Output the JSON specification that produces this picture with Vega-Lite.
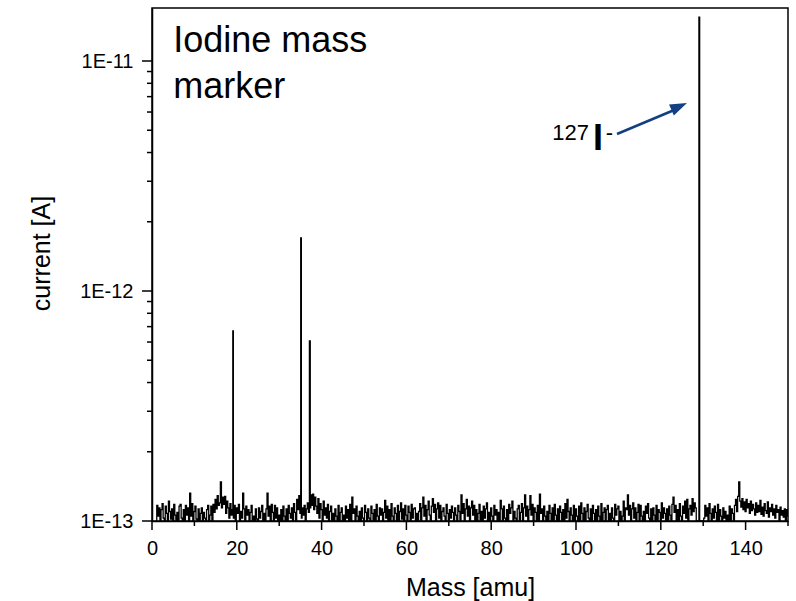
{
"$schema":"https://vega.github.io/schema/vega-lite/v6.json",
"width":636,"height":513,
"autosize":{"type":"none"},
"padding":{"left":152,"top":8,"right":8,"bottom":80},
"background":"white",
"config":{"font":"Liberation Sans","view":{"stroke":"black","strokeWidth":1.5},
"axis":{"zindex":0,"domainColor":"black","domainWidth":1.5,"ticks":false,"labelColor":"black","titleColor":"black","labelFontSize":20,"titleFontSize":25,"titleFontWeight":"normal","grid":false,"labelFont":"Liberation Sans","titleFont":"Liberation Sans","labelOverlap":false,"labelFlush":false}},
"layer":[
{"data":{"values":[
{"m":1,"c":1e-13},{"m":1.25,"c":1.17e-13},{"m":1.5,"c":1.05e-13},{"m":1.75,"c":1.14e-13},
{"m":2,"c":1e-13},{"m":2.25,"c":1.12e-13},{"m":2.5,"c":1.19e-13},{"m":2.75,"c":1.03e-13},
{"m":3,"c":1e-13},{"m":3.25,"c":1.16e-13},{"m":3.5,"c":1.08e-13},{"m":3.75,"c":1e-13},
{"m":4,"c":1.22e-13},{"m":4.25,"c":1.1e-13},{"m":4.5,"c":1.02e-13},{"m":4.75,"c":1.13e-13},
{"m":5,"c":1e-13},{"m":5.25,"c":1.18e-13},{"m":5.5,"c":1.06e-13},{"m":5.75,"c":1e-13},
{"m":6,"c":1.09e-13},{"m":6.25,"c":1e-13},{"m":6.5,"c":1.16e-13},{"m":6.75,"c":1.18e-13},
{"m":7,"c":1.03e-13},{"m":7.25,"c":1e-13},{"m":7.5,"c":1.12e-13},{"m":7.75,"c":1e-13},
{"m":8,"c":1.17e-13},{"m":8.25,"c":1.06e-13},{"m":8.5,"c":1.14e-13},{"m":8.75,"c":1e-13},
{"m":9,"c":1.32e-13},{"m":9.25,"c":1.05e-13},{"m":9.5,"c":1.19e-13},{"m":9.75,"c":1e-13},
{"m":10,"c":1.1e-13},{"m":10.25,"c":1.16e-13},{"m":10.5,"c":1.02e-13},{"m":10.75,"c":1e-13},
{"m":11,"c":1.13e-13},{"m":11.25,"c":1e-13},{"m":11.5,"c":1.08e-13},{"m":11.75,"c":1.14e-13},
{"m":12,"c":1e-13},{"m":12.25,"c":1.09e-13},{"m":12.5,"c":1.03e-13},{"m":12.75,"c":1e-13},
{"m":13,"c":1.12e-13},{"m":13.25,"c":1.17e-13},{"m":13.5,"c":1e-13},{"m":13.75,"c":1.06e-13},
{"m":14,"c":1.16e-13},{"m":14.25,"c":1e-13},{"m":14.5,"c":1.18e-13},{"m":14.75,"c":1.09e-13},
{"m":15,"c":1.24e-13},{"m":15.25,"c":1.13e-13},{"m":15.5,"c":1.29e-13},{"m":15.75,"c":1.17e-13},
{"m":16,"c":1.2e-13},{"m":16.25,"c":1.48e-13},{"m":16.5,"c":1.14e-13},{"m":16.75,"c":1.27e-13},
{"m":17,"c":1.18e-13},{"m":17.25,"c":1.28e-13},{"m":17.5,"c":1.08e-13},{"m":17.75,"c":1.22e-13},
{"m":18,"c":1.14e-13},{"m":18.25,"c":1.03e-13},{"m":18.5,"c":1.19e-13},{"m":18.75,"c":1.06e-13},
{"m":19,"c":1.12e-13},{"m":19.12,"c":6.7e-13},{"m":19.25,"c":1.03e-13},{"m":19.5,"c":1.17e-13},{"m":19.75,"c":1e-13},
{"m":20,"c":1.14e-13},{"m":20.25,"c":1.08e-13},{"m":20.5,"c":1.18e-13},{"m":20.75,"c":1e-13},
{"m":21,"c":1.1e-13},{"m":21.25,"c":1.03e-13},{"m":21.5,"c":1.32e-13},{"m":21.75,"c":1.13e-13},
{"m":22,"c":1e-13},{"m":22.25,"c":1.16e-13},{"m":22.5,"c":1.06e-13},{"m":22.75,"c":1.12e-13},
{"m":23,"c":1e-13},{"m":23.25,"c":1.09e-13},{"m":23.5,"c":1.17e-13},{"m":23.75,"c":1e-13},
{"m":24,"c":1.05e-13},{"m":24.25,"c":1e-13},{"m":24.5,"c":1.13e-13},{"m":24.75,"c":1.02e-13},
{"m":25,"c":1e-13},{"m":25.25,"c":1.14e-13},{"m":25.5,"c":1.03e-13},{"m":25.75,"c":1.1e-13},
{"m":26,"c":1.17e-13},{"m":26.25,"c":1e-13},{"m":26.5,"c":1.08e-13},{"m":26.75,"c":1e-13},
{"m":27,"c":1.13e-13},{"m":27.25,"c":1.32e-13},{"m":27.5,"c":1.05e-13},{"m":27.75,"c":1.16e-13},
{"m":28,"c":1e-13},{"m":28.25,"c":1.18e-13},{"m":28.5,"c":1.09e-13},{"m":28.75,"c":1e-13},
{"m":29,"c":1.17e-13},{"m":29.25,"c":1.03e-13},{"m":29.5,"c":1.14e-13},{"m":29.75,"c":1e-13},
{"m":30,"c":1.06e-13},{"m":30.25,"c":1e-13},{"m":30.5,"c":1.12e-13},{"m":30.75,"c":1e-13},
{"m":31,"c":1.16e-13},{"m":31.25,"c":1.05e-13},{"m":31.5,"c":1e-13},{"m":31.75,"c":1.13e-13},
{"m":32,"c":1e-13},{"m":32.25,"c":1.17e-13},{"m":32.5,"c":1.08e-13},{"m":32.75,"c":1.03e-13},
{"m":33,"c":1.14e-13},{"m":33.25,"c":1e-13},{"m":33.5,"c":1.19e-13},{"m":33.75,"c":1.09e-13},
{"m":34,"c":1e-13},{"m":34.25,"c":1.24e-13},{"m":34.5,"c":1.12e-13},{"m":34.75,"c":1.29e-13},
{"m":35,"c":1.08e-13},{"m":35.15,"c":1.7e-12},{"m":35.3,"c":1.03e-13},{"m":35.5,"c":1.14e-13},{"m":35.75,"c":1.06e-13},
{"m":36,"c":1.17e-13},{"m":36.25,"c":1e-13},{"m":36.5,"c":1.13e-13},{"m":36.75,"c":1.2e-13},
{"m":37,"c":1.09e-13},{"m":37.25,"c":6.07e-13},{"m":37.4,"c":1.14e-13},{"m":37.5,"c":1.3e-13},{"m":37.75,"c":1.17e-13},
{"m":38,"c":1.31e-13},{"m":38.25,"c":1.12e-13},{"m":38.5,"c":1.27e-13},{"m":38.75,"c":1.16e-13},
{"m":39,"c":1.08e-13},{"m":39.25,"c":1.25e-13},{"m":39.5,"c":1.03e-13},{"m":39.75,"c":1.19e-13},
{"m":40,"c":1.12e-13},{"m":40.25,"c":1e-13},{"m":40.5,"c":1.22e-13},{"m":40.75,"c":1.06e-13},
{"m":41,"c":1.14e-13},{"m":41.25,"c":1.03e-13},{"m":41.5,"c":1.18e-13},{"m":41.75,"c":1e-13},
{"m":42,"c":1.1e-13},{"m":42.25,"c":1.16e-13},{"m":42.5,"c":1e-13},{"m":42.75,"c":1.08e-13},
{"m":43,"c":1e-13},{"m":43.25,"c":1.13e-13},{"m":43.5,"c":1.05e-13},{"m":43.75,"c":1e-13},
{"m":44,"c":1.17e-13},{"m":44.25,"c":1e-13},{"m":44.5,"c":1.09e-13},{"m":44.75,"c":1.14e-13},
{"m":45,"c":1e-13},{"m":45.25,"c":1.06e-13},{"m":45.5,"c":1e-13},{"m":45.75,"c":1.16e-13},
{"m":46,"c":1.03e-13},{"m":46.25,"c":1.12e-13},{"m":46.5,"c":1e-13},{"m":46.75,"c":1.18e-13},
{"m":47,"c":1e-13},{"m":47.25,"c":1.27e-13},{"m":47.5,"c":1.08e-13},{"m":47.75,"c":1.13e-13},
{"m":48,"c":1e-13},{"m":48.25,"c":1.16e-13},{"m":48.5,"c":1.05e-13},{"m":48.75,"c":1e-13},
{"m":49,"c":1.1e-13},{"m":49.25,"c":1e-13},{"m":49.5,"c":1.14e-13},{"m":49.75,"c":1.03e-13},
{"m":50,"c":1e-13},{"m":50.25,"c":1.17e-13},{"m":50.5,"c":1.09e-13},{"m":50.75,"c":1e-13},
{"m":51,"c":1.13e-13},{"m":51.25,"c":1.03e-13},{"m":51.5,"c":1e-13},{"m":51.75,"c":1.16e-13},
{"m":52,"c":1.08e-13},{"m":52.25,"c":1e-13},{"m":52.5,"c":1.12e-13},{"m":52.75,"c":1e-13},
{"m":53,"c":1.18e-13},{"m":53.25,"c":1.05e-13},{"m":53.5,"c":1e-13},{"m":53.75,"c":1.14e-13},
{"m":54,"c":1.06e-13},{"m":54.25,"c":1.13e-13},{"m":54.5,"c":1e-13},{"m":54.75,"c":1.09e-13},
{"m":55,"c":1.23e-13},{"m":55.25,"c":1.03e-13},{"m":55.5,"c":1.16e-13},{"m":55.75,"c":1e-13},
{"m":56,"c":1.12e-13},{"m":56.25,"c":1e-13},{"m":56.5,"c":1.19e-13},{"m":56.75,"c":1.05e-13},
{"m":57,"c":1e-13},{"m":57.25,"c":1.14e-13},{"m":57.5,"c":1.08e-13},{"m":57.75,"c":1e-13},
{"m":58,"c":1.17e-13},{"m":58.25,"c":1e-13},{"m":58.5,"c":1.1e-13},{"m":58.75,"c":1.2e-13},
{"m":59,"c":1.02e-13},{"m":59.25,"c":1.13e-13},{"m":59.5,"c":1e-13},{"m":59.75,"c":1.17e-13},
{"m":60,"c":1.06e-13},{"m":60.25,"c":1e-13},{"m":60.5,"c":1.16e-13},{"m":60.75,"c":1.09e-13},
{"m":61,"c":1e-13},{"m":61.25,"c":1.18e-13},{"m":61.5,"c":1.03e-13},{"m":61.75,"c":1.13e-13},
{"m":62,"c":1.14e-13},{"m":62.25,"c":1e-13},{"m":62.5,"c":1.08e-13},{"m":62.75,"c":1e-13},
{"m":63,"c":1.1e-13},{"m":63.25,"c":1.19e-13},{"m":63.5,"c":1e-13},{"m":63.75,"c":1.14e-13},
{"m":64,"c":1.27e-13},{"m":64.25,"c":1.05e-13},{"m":64.5,"c":1.17e-13},{"m":64.75,"c":1e-13},
{"m":65,"c":1.12e-13},{"m":65.25,"c":1.22e-13},{"m":65.5,"c":1.06e-13},{"m":65.75,"c":1e-13},
{"m":66,"c":1.16e-13},{"m":66.25,"c":1.25e-13},{"m":66.5,"c":1.09e-13},{"m":66.75,"c":1.18e-13},
{"m":67,"c":1e-13},{"m":67.25,"c":1.13e-13},{"m":67.5,"c":1.2e-13},{"m":67.75,"c":1.03e-13},
{"m":68,"c":1.17e-13},{"m":68.25,"c":1e-13},{"m":68.5,"c":1.1e-13},{"m":68.75,"c":1.14e-13},
{"m":69,"c":1.05e-13},{"m":69.25,"c":1e-13},{"m":69.5,"c":1.18e-13},{"m":69.75,"c":1.08e-13},
{"m":70,"c":1e-13},{"m":70.25,"c":1.12e-13},{"m":70.5,"c":1.03e-13},{"m":70.75,"c":1.16e-13},
{"m":71,"c":1.09e-13},{"m":71.25,"c":1e-13},{"m":71.5,"c":1.14e-13},{"m":71.75,"c":1.06e-13},
{"m":72,"c":1e-13},{"m":72.25,"c":1.17e-13},{"m":72.5,"c":1.1e-13},{"m":72.75,"c":1e-13},
{"m":73,"c":1.3e-13},{"m":73.25,"c":1.08e-13},{"m":73.5,"c":1.19e-13},{"m":73.75,"c":1e-13},
{"m":74,"c":1.13e-13},{"m":74.25,"c":1.24e-13},{"m":74.5,"c":1.05e-13},{"m":74.75,"c":1.16e-13},
{"m":75,"c":1e-13},{"m":75.25,"c":1.14e-13},{"m":75.5,"c":1.22e-13},{"m":75.75,"c":1.06e-13},
{"m":76,"c":1.17e-13},{"m":76.25,"c":1e-13},{"m":76.5,"c":1.12e-13},{"m":76.75,"c":1e-13},
{"m":77,"c":1.08e-13},{"m":77.25,"c":1.18e-13},{"m":77.5,"c":1e-13},{"m":77.75,"c":1.1e-13},
{"m":78,"c":1e-13},{"m":78.25,"c":1.16e-13},{"m":78.5,"c":1.03e-13},{"m":78.75,"c":1.13e-13},
{"m":79,"c":1.2e-13},{"m":79.25,"c":1e-13},{"m":79.5,"c":1.09e-13},{"m":79.75,"c":1e-13},
{"m":80,"c":1.14e-13},{"m":80.25,"c":1.05e-13},{"m":80.5,"c":1e-13},{"m":80.75,"c":1.17e-13},
{"m":81,"c":1.06e-13},{"m":81.25,"c":1.12e-13},{"m":81.5,"c":1e-13},{"m":81.75,"c":1.09e-13},
{"m":82,"c":1e-13},{"m":82.25,"c":1.23e-13},{"m":82.5,"c":1.13e-13},{"m":82.75,"c":1e-13},
{"m":83,"c":1.16e-13},{"m":83.25,"c":1.03e-13},{"m":83.5,"c":1e-13},{"m":83.75,"c":1.12e-13},
{"m":84,"c":1e-13},{"m":84.25,"c":1.18e-13},{"m":84.5,"c":1.08e-13},{"m":84.75,"c":1.14e-13},
{"m":85,"c":1.22e-13},{"m":85.25,"c":1e-13},{"m":85.5,"c":1.1e-13},{"m":85.75,"c":1.03e-13},
{"m":86,"c":1e-13},{"m":86.25,"c":1.13e-13},{"m":86.5,"c":1.17e-13},{"m":86.75,"c":1e-13},
{"m":87,"c":1.09e-13},{"m":87.25,"c":1.19e-13},{"m":87.5,"c":1e-13},{"m":87.75,"c":1.14e-13},
{"m":88,"c":1.3e-13},{"m":88.25,"c":1.05e-13},{"m":88.5,"c":1.16e-13},{"m":88.75,"c":1e-13},
{"m":89,"c":1.12e-13},{"m":89.25,"c":1.29e-13},{"m":89.5,"c":1.06e-13},{"m":89.75,"c":1.18e-13},
{"m":90,"c":1e-13},{"m":90.25,"c":1.14e-13},{"m":90.5,"c":1.09e-13},{"m":90.75,"c":1e-13},
{"m":91,"c":1.17e-13},{"m":91.25,"c":1e-13},{"m":91.5,"c":1.31e-13},{"m":91.75,"c":1.08e-13},
{"m":92,"c":1.13e-13},{"m":92.25,"c":1e-13},{"m":92.5,"c":1.16e-13},{"m":92.75,"c":1.05e-13},
{"m":93,"c":1e-13},{"m":93.25,"c":1.1e-13},{"m":93.5,"c":1e-13},{"m":93.75,"c":1.17e-13},
{"m":94,"c":1.08e-13},{"m":94.25,"c":1e-13},{"m":94.5,"c":1.14e-13},{"m":94.75,"c":1e-13},
{"m":95,"c":1.18e-13},{"m":95.25,"c":1.06e-13},{"m":95.5,"c":1e-13},{"m":95.75,"c":1.13e-13},
{"m":96,"c":1e-13},{"m":96.25,"c":1.16e-13},{"m":96.5,"c":1.09e-13},{"m":96.75,"c":1e-13},
{"m":97,"c":1.12e-13},{"m":97.25,"c":1e-13},{"m":97.5,"c":1.19e-13},{"m":97.75,"c":1.03e-13},
{"m":98,"c":1.24e-13},{"m":98.25,"c":1.1e-13},{"m":98.5,"c":1e-13},{"m":98.75,"c":1.14e-13},
{"m":99,"c":1.06e-13},{"m":99.25,"c":1e-13},{"m":99.5,"c":1.17e-13},{"m":99.75,"c":1e-13},
{"m":100,"c":1.13e-13},{"m":100.25,"c":1.05e-13},{"m":100.5,"c":1e-13},{"m":100.75,"c":1.16e-13},
{"m":101,"c":1e-13},{"m":101.25,"c":1.2e-13},{"m":101.5,"c":1.08e-13},{"m":101.75,"c":1e-13},
{"m":102,"c":1.14e-13},{"m":102.25,"c":1e-13},{"m":102.5,"c":1.1e-13},{"m":102.75,"c":1.18e-13},
{"m":103,"c":1.03e-13},{"m":103.25,"c":1e-13},{"m":103.5,"c":1.13e-13},{"m":103.75,"c":1e-13},
{"m":104,"c":1.17e-13},{"m":104.25,"c":1.08e-13},{"m":104.5,"c":1e-13},{"m":104.75,"c":1.12e-13},
{"m":105,"c":1e-13},{"m":105.25,"c":1.16e-13},{"m":105.5,"c":1.05e-13},{"m":105.75,"c":1e-13},
{"m":106,"c":1.19e-13},{"m":106.25,"c":1e-13},{"m":106.5,"c":1.09e-13},{"m":106.75,"c":1.14e-13},
{"m":107,"c":1e-13},{"m":107.25,"c":1.12e-13},{"m":107.5,"c":1.17e-13},{"m":107.75,"c":1e-13},
{"m":108,"c":1.08e-13},{"m":108.25,"c":1e-13},{"m":108.5,"c":1.14e-13},{"m":108.75,"c":1.03e-13},
{"m":109,"c":1e-13},{"m":109.25,"c":1.18e-13},{"m":109.5,"c":1.06e-13},{"m":109.75,"c":1.13e-13},
{"m":110,"c":1.16e-13},{"m":110.25,"c":1e-13},{"m":110.5,"c":1.1e-13},{"m":110.75,"c":1e-13},
{"m":111,"c":1.05e-13},{"m":111.25,"c":1.22e-13},{"m":111.5,"c":1e-13},{"m":111.75,"c":1.14e-13},
{"m":112,"c":1.12e-13},{"m":112.25,"c":1.3e-13},{"m":112.5,"c":1.06e-13},{"m":112.75,"c":1.17e-13},
{"m":113,"c":1e-13},{"m":113.25,"c":1.13e-13},{"m":113.5,"c":1.2e-13},{"m":113.75,"c":1.03e-13},
{"m":114,"c":1.14e-13},{"m":114.25,"c":1e-13},{"m":114.5,"c":1.09e-13},{"m":114.75,"c":1.18e-13},
{"m":115,"c":1e-13},{"m":115.25,"c":1.17e-13},{"m":115.5,"c":1.05e-13},{"m":115.75,"c":1e-13},
{"m":116,"c":1.1e-13},{"m":116.25,"c":1e-13},{"m":116.5,"c":1.16e-13},{"m":116.75,"c":1.08e-13},
{"m":117,"c":1.19e-13},{"m":117.25,"c":1.03e-13},{"m":117.5,"c":1e-13},{"m":117.75,"c":1.13e-13},
{"m":118,"c":1e-13},{"m":118.25,"c":1.14e-13},{"m":118.5,"c":1.06e-13},{"m":118.75,"c":1e-13},
{"m":119,"c":1.17e-13},{"m":119.25,"c":1e-13},{"m":119.5,"c":1.12e-13},{"m":119.75,"c":1.09e-13},
{"m":120,"c":1e-13},{"m":120.25,"c":1.2e-13},{"m":120.5,"c":1.03e-13},{"m":120.75,"c":1.14e-13},
{"m":121,"c":1.08e-13},{"m":121.25,"c":1e-13},{"m":121.5,"c":1.13e-13},{"m":121.75,"c":1e-13},
{"m":122,"c":1.16e-13},{"m":122.25,"c":1.06e-13},{"m":122.5,"c":1e-13},{"m":122.75,"c":1.18e-13},
{"m":123,"c":1.27e-13},{"m":123.25,"c":1.09e-13},{"m":123.5,"c":1.17e-13},{"m":123.75,"c":1e-13},
{"m":124,"c":1.12e-13},{"m":124.25,"c":1e-13},{"m":124.5,"c":1.19e-13},{"m":124.75,"c":1.05e-13},
{"m":125,"c":1e-13},{"m":125.25,"c":1.16e-13},{"m":125.5,"c":1.08e-13},{"m":125.75,"c":1.22e-13},
{"m":126,"c":1.03e-13},{"m":126.25,"c":1.24e-13},{"m":126.5,"c":1e-13},{"m":126.75,"c":1.13e-13},
{"m":127,"c":1.17e-13},{"m":127.25,"c":1.06e-13},{"m":127.5,"c":1.25e-13},{"m":127.75,"c":1.1e-13},
{"m":128,"c":1.2e-13},{"m":128.25,"c":1.14e-13},{"m":128.47,"c":1e-13},{"m":128.9,"c":1e-13},{"m":129.08,"c":1.55e-11},{"m":129.25,"c":1e-13},{"m":129.65,"c":1e-13},
{"m":130,"c":1e-13},{"m":130.25,"c":1.03e-13},{"m":130.5,"c":1.17e-13},{"m":130.75,"c":1.05e-13},
{"m":131,"c":1.14e-13},{"m":131.25,"c":1e-13},{"m":131.5,"c":1.19e-13},{"m":131.75,"c":1.08e-13},
{"m":132,"c":1e-13},{"m":132.25,"c":1.13e-13},{"m":132.5,"c":1.03e-13},{"m":132.75,"c":1.16e-13},
{"m":133,"c":1.09e-13},{"m":133.25,"c":1e-13},{"m":133.5,"c":1.18e-13},{"m":133.75,"c":1e-13},
{"m":134,"c":1.12e-13},{"m":134.25,"c":1.05e-13},{"m":134.5,"c":1e-13},{"m":134.75,"c":1.14e-13},
{"m":135,"c":1.03e-13},{"m":135.25,"c":1.1e-13},{"m":135.5,"c":1e-13},{"m":135.75,"c":1.06e-13},
{"m":136,"c":1e-13},{"m":136.25,"c":1.16e-13},{"m":136.5,"c":1e-13},{"m":136.75,"c":1.13e-13},
{"m":137,"c":1.08e-13},{"m":137.25,"c":1e-13},{"m":137.5,"c":1.17e-13},{"m":137.75,"c":1.24e-13},
{"m":138,"c":1.1e-13},{"m":138.25,"c":1.28e-13},{"m":138.5,"c":1.48e-13},{"m":138.75,"c":1.22e-13},
{"m":139,"c":1.15e-13},{"m":139.25,"c":1.25e-13},{"m":139.5,"c":1.12e-13},{"m":139.75,"c":1.21e-13},
{"m":140,"c":1.1e-13},{"m":140.25,"c":1.24e-13},{"m":140.5,"c":1.14e-13},{"m":140.75,"c":1.19e-13},
{"m":141,"c":1.08e-13},{"m":141.25,"c":1.22e-13},{"m":141.5,"c":1.11e-13},{"m":141.75,"c":1.18e-13},
{"m":142,"c":1.13e-13},{"m":142.25,"c":1.06e-13},{"m":142.5,"c":1.2e-13},{"m":142.75,"c":1.09e-13},
{"m":143,"c":1.17e-13},{"m":143.25,"c":1.1e-13},{"m":143.5,"c":1.23e-13},{"m":143.75,"c":1.07e-13},
{"m":144,"c":1.15e-13},{"m":144.25,"c":1.05e-13},{"m":144.5,"c":1.19e-13},{"m":144.75,"c":1.11e-13},
{"m":145,"c":1.08e-13},{"m":145.25,"c":1.21e-13},{"m":145.5,"c":1.04e-13},{"m":145.75,"c":1.14e-13},
{"m":146,"c":1.1e-13},{"m":146.25,"c":1.18e-13},{"m":146.5,"c":1.06e-13},{"m":146.75,"c":1.13e-13},
{"m":147,"c":1.03e-13},{"m":147.25,"c":1.17e-13},{"m":147.5,"c":1.09e-13},{"m":147.75,"c":1.12e-13},
{"m":148,"c":1e-13},{"m":148.25,"c":1.15e-13},{"m":148.5,"c":1.06e-13},{"m":148.75,"c":1.11e-13},
{"m":149,"c":1.04e-13},{"m":149.25,"c":1.13e-13},{"m":149.5,"c":1e-13},{"m":149.75,"c":1.12e-13},
{"m":150,"c":1.05e-13}
]},
"mark":{"type":"line","color":"black","strokeWidth":1.3,"interpolate":"step","clip":true},
"encoding":{
"x":{"field":"m","type":"quantitative","scale":{"domain":[0,150],"nice":false,"zero":false},
"axis":{"orient":"bottom","zindex":0,"title":"Mass [amu]","values":[0,20,40,60,80,100,120,140],"ticks":false,"labelPadding":17,"titleY":74,"titleBaseline":"alphabetic"}},
"y":{"field":"c","type":"quantitative","scale":{"type":"log","domain":[1e-13,1.7e-11],"nice":false},
"axis":{"orient":"left","zindex":0,"title":"current [A]","values":[1e-13,1e-12,1e-11],"labelExpr":"datum.value > 5e-12 ? '1E-11' : datum.value > 5e-13 ? '1E-12' : '1E-13'","ticks":false,"labelPadding":19,"titleX":-103,"titleY":245,"titleBaseline":"alphabetic"}}
}},
{"data":{"values":[{"t":1e-13},{"t":1e-12},{"t":1e-11}]},
"mark":{"type":"rule","color":"black","strokeWidth":1.5,"clip":false},
"encoding":{"x":{"datum":0,"type":"quantitative"},"x2":{"datum":-2.36},"y":{"field":"t","type":"quantitative"}}},
{"data":{"values":[{"t":2e-13},{"t":3e-13},{"t":4e-13},{"t":5e-13},{"t":6e-13},{"t":7e-13},{"t":8e-13},{"t":9e-13},{"t":2e-12},{"t":3e-12},{"t":4e-12},{"t":5e-12},{"t":6e-12},{"t":7e-12},{"t":8e-12},{"t":9e-12}]},
"mark":{"type":"rule","color":"black","strokeWidth":1.5,"clip":false},
"encoding":{"x":{"datum":0,"type":"quantitative"},"x2":{"datum":-1.18},"y":{"field":"t","type":"quantitative"}}},
{"data":{"values":[{"t":0},{"t":20},{"t":40},{"t":60},{"t":80},{"t":100},{"t":120},{"t":140}]},
"mark":{"type":"rule","color":"black","strokeWidth":1.5,"clip":false},
"encoding":{"x":{"field":"t","type":"quantitative"},"y":{"datum":1e-13,"type":"quantitative"},"y2":{"datum":9.14e-14}}},
{"data":{"values":[{"t":10},{"t":30},{"t":50},{"t":70},{"t":90},{"t":110},{"t":130},{"t":150}]},
"mark":{"type":"rule","color":"black","strokeWidth":1.5,"clip":false},
"encoding":{"x":{"field":"t","type":"quantitative"},"y":{"datum":1e-13,"type":"quantitative"},"y2":{"datum":9.51e-14}}},
{"data":{"values":[{}]},
"mark":{"type":"text","text":["Iodine mass","marker"],"fontSize":36,"align":"left","baseline":"alphabetic","lineHeight":46,"color":"black"},
"encoding":{"x":{"datum":5,"type":"quantitative"},"y":{"datum":1.094e-11,"type":"quantitative"}}},
{"data":{"values":[{}]},
"mark":{"type":"text","text":"127","fontSize":22,"align":"right","baseline":"alphabetic","color":"black"},
"encoding":{"x":{"datum":103.07,"type":"quantitative"},"y":{"datum":4.535e-12,"type":"quantitative"}}},
{"data":{"values":[{}]},
"mark":{"type":"text","text":"I","fontSize":36,"fontWeight":"bold","align":"left","baseline":"alphabetic","color":"black"},
"encoding":{"x":{"datum":104.0,"type":"quantitative"},"y":{"datum":4.1e-12,"type":"quantitative"}}},
{"data":{"values":[{}]},
"mark":{"type":"text","text":"-","fontSize":22,"align":"left","baseline":"alphabetic","color":"black"},
"encoding":{"x":{"datum":107.0,"type":"quantitative"},"y":{"datum":4.535e-12,"type":"quantitative"}}},
{"data":{"values":[{}]},
"mark":{"type":"rule","color":"#143f82","strokeWidth":2.5},
"encoding":{"x":{"datum":109.67,"type":"quantitative"},"y":{"datum":4.815e-12,"type":"quantitative"},"x2":{"datum":123.58},"y2":{"datum":6.17e-12}}},
{"data":{"values":[{}]},
"mark":{"type":"point","shape":"M-1,-0.7L1,0L-1,0.7Z","filled":true,"color":"#143f82","opacity":1,"size":289,"angle":336},
"encoding":{"x":{"datum":124.34,"type":"quantitative"},"y":{"datum":6.34e-12,"type":"quantitative"}}}
]
}
